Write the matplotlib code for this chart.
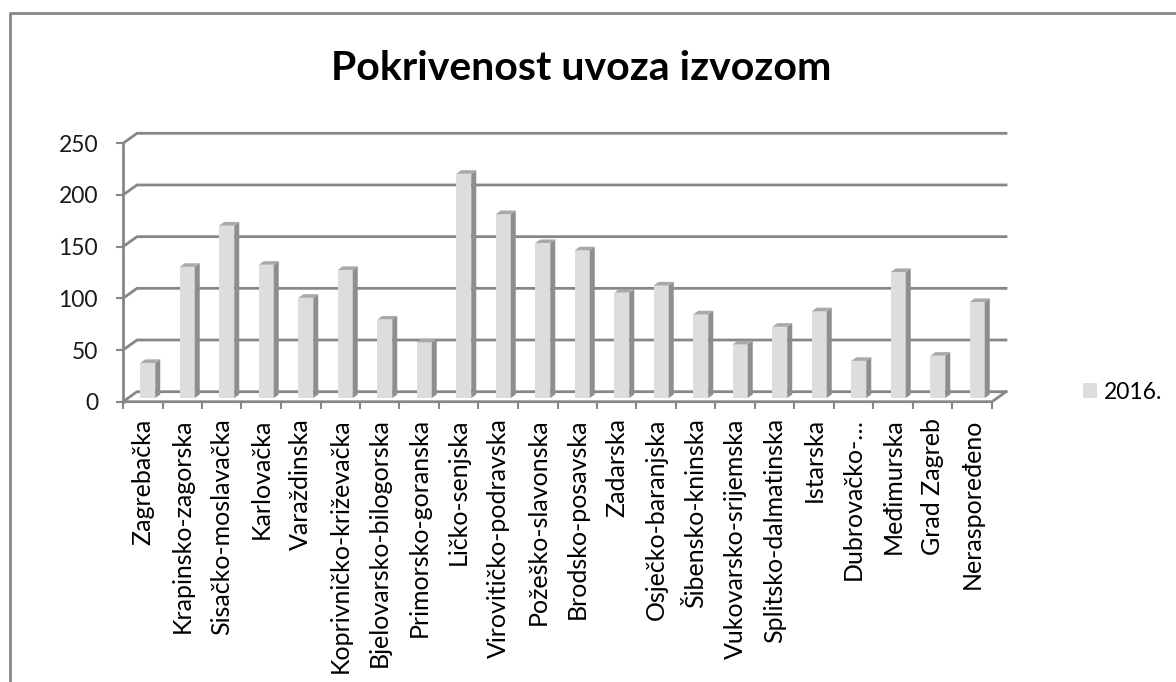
import numpy as np
import matplotlib.pyplot as plt
from matplotlib.patches import Polygon, Patch
from matplotlib.lines import Line2D

# Pokrivenost uvoza izvozom po županijama (%), 2016.
zupanije = ['Zagrebačka', 'Krapinsko-zagorska', 'Sisačko-moslavačka', 'Karlovačka',
            'Varaždinska', 'Koprivničko-križevačka', 'Bjelovarsko-bilogorska',
            'Primorsko-goranska', 'Ličko-senjska', 'Virovitičko-podravska',
            'Požeško-slavonska', 'Brodsko-posavska', 'Zadarska', 'Osječko-baranjska',
            'Šibensko-kninska', 'Vukovarsko-srijemska', 'Splitsko-dalmatinska',
            'Istarska', 'Dubrovačko-…', 'Međimurska', 'Grad Zagreb', 'Neraspoređeno']
pokrivenost = [34, 127, 167, 129, 97, 124, 76, 54, 217, 178, 150, 143,
               102, 109, 81, 52, 69, 84, 36, 122, 41, 93]
y_ticks = [0, 50, 100, 150, 200, 250]
godina = '2016.'

plt.rcParams['font.family'] = ['Lato', 'DejaVu Sans']

W, H = 1176, 682
fig = plt.figure(figsize=(W / 100, H / 100), dpi=100)

# prednja ravnina osi (u pikselima)
x0, x1 = 123, 992
y0, y250 = 401.7, 143.3
ax = fig.add_axes([x0 / W, 1 - y0 / H, (x1 - x0) / W, (y0 - y250) / H])
n = len(zupanije)
ax.set_xlim(0, n)
ax.set_ylim(0, 250)
for s in ax.spines.values():
    s.set_visible(False)

px_x = (x1 - x0) / n
px_y = (y0 - y250) / 250
def dx(p):
    return p / px_x
def dy(p):
    return p / px_y

siva = '#878787'

# stražnji zid s linijama mreže
DX, DY = dx(14), dy(10)
for v in y_ticks:
    ax.plot([0, DX, n + DX], [v, v + DY, v + DY], color=siva, lw=2,
            clip_on=False, zorder=1, solid_joinstyle='miter')
# pod: prednji rub i desna dijagonala
ax.plot([0, n, n + DX], [0, 0, DY], color=siva, lw=2, clip_on=False, zorder=4,
        solid_joinstyle='miter')
ax.plot([0, 0], [0, 250], color=siva, lw=2, clip_on=False, zorder=4)

# 3D stupci
sirina = dx(15)
pomak_x, pomak_y = dx(5), dy(3.6)   # lice stupca je malo iza prednje ravnine
dub_x, dub_y = dx(5), dy(3.6)       # dubina stupca
for i, v in enumerate(pokrivenost):
    lx = i + 0.5 + pomak_x - sirina / 2
    rx = lx + sirina
    b = pomak_y
    t = v + pomak_y
    ax.add_patch(Polygon([[lx, b], [rx, b], [rx, t], [lx, t]], closed=True,
                         facecolor='#dddddd', edgecolor='none', zorder=3, clip_on=False))
    ax.add_patch(Polygon([[rx, b], [rx + dub_x, b + dub_y], [rx + dub_x, t + dub_y], [rx, t]],
                         closed=True, facecolor='#8e8e8e', edgecolor='none', zorder=3,
                         clip_on=False))
    ax.add_patch(Polygon([[lx, t], [rx, t], [rx + dub_x, t + dub_y], [lx + dub_x, t + dub_y]],
                         closed=True, facecolor='#a9a9a9', edgecolor='none', zorder=3,
                         clip_on=False))

# osi
ax.set_yticks(y_ticks)
ax.tick_params(axis='y', length=5, width=1.5, color=siva, pad=13, labelsize=16.5,
               labelcolor='#1a1a1a')
ax.set_xticks(np.arange(0, n + 1))
ax.set_xticklabels([])
ax.set_xticks(np.arange(n) + 0.5, minor=True)
ax.set_xticklabels(zupanije, minor=True, rotation=90, ha='center', va='top')
ax.tick_params(axis='x', which='major', length=5, width=1.5, color=siva)
ax.tick_params(axis='x', which='minor', length=0, pad=12, labelsize=18, labelcolor='#000000')

fig.text(581.5 / W, 1 - 80 / H, 'Pokrivenost uvoza izvozom', ha='center', va='baseline',
         fontsize=29.5, fontweight='bold', color='#000000')

fig.legend(handles=[Patch(facecolor='#dddddd', edgecolor='none')], labels=[godina],
           loc='center left', bbox_to_anchor=(1083 / W, 1 - 392 / H), frameon=False,
           fontsize=16.5, handlelength=0.62, handleheight=0.6, handletextpad=0.3,
           borderpad=0, borderaxespad=0)

# okvir grafikona (lijevi i gornji rub)
fig.add_artist(Line2D([10 / W, 10 / W, 1], [0, 1 - 13 / H, 1 - 13 / H],
                      color=siva, lw=2, transform=fig.transFigure))

fig.savefig('out.png', dpi=100)
